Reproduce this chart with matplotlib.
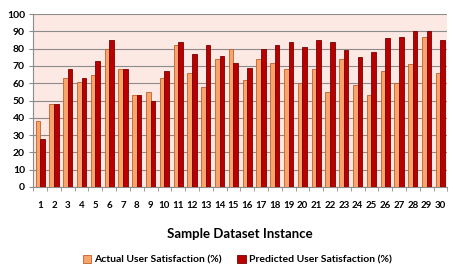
import numpy as np
import matplotlib.pyplot as plt
from matplotlib.ticker import MultipleLocator

plt.rcParams['font.family'] = ['Lato', 'DejaVu Sans']

instances = [str(i) for i in range(1, 31)]
actual = [38, 48, 63, 61, 65, 80, 68, 53, 55, 63,
          82, 66, 58, 74, 80, 62, 74, 72, 68, 60,
          68, 55, 74, 59, 53, 67, 60, 71, 87, 66]
predicted = [28, 48, 68, 63, 73, 85, 68, 53, 50, 67,
             84, 77, 82, 76, 72, 69, 80, 82, 84, 81,
             85, 84, 79, 75, 78, 86, 87, 90, 90, 85]

fig = plt.figure(figsize=(4.56, 2.71), dpi=100)
ax = fig.add_axes([0.073, 0.31, 0.908, 0.638])

x = np.arange(len(instances))
w = 0.33
ax.bar(x - w / 2, actual, w, color='#f9a46a', edgecolor='#c0602a', linewidth=0.6,
       label='Actual User Satisfaction (%)', zorder=3)
ax.bar(x + w / 2, predicted, w, color='#b80000', edgecolor='#7a0000', linewidth=0.6,
       label='Predicted User Satisfaction (%)', zorder=3)

ax.set_facecolor('#fde9e3')
ax.set_ylim(0, 100)
ax.set_xlim(-0.5, len(instances) - 0.5)
ax.yaxis.set_major_locator(MultipleLocator(10))
ax.grid(axis='y', color='#8c8c8c', linewidth=0.8, zorder=0)

ax.set_xticks(x)
ax.set_xticklabels(instances)
ax.set_xticks(np.arange(-0.5, len(instances), 1), minor=True)
ax.tick_params(axis='x', which='major', length=0, pad=10, labelsize=7)
ax.tick_params(axis='x', which='minor', length=3, color='#8c8c8c')
ax.tick_params(axis='y', length=3, color='#8c8c8c', labelsize=7.5, pad=3)
for lbl in ax.get_xticklabels() + ax.get_yticklabels():
    lbl.set_fontweight('bold')

for side in ['top', 'right']:
    ax.spines[side].set_visible(False)
ax.spines['left'].set_color('#8c8c8c')
ax.spines['bottom'].set_color('#8c8c8c')

ax.set_xlabel('Sample Dataset Instance', fontsize=9.5, fontweight='bold', labelpad=13)

leg = fig.legend(loc='lower center', bbox_to_anchor=(0.52, -0.01), ncol=2, frameon=False,
                 prop={'size': 7.5, 'weight': 'bold'}, handlelength=0.8, handleheight=0.8,
                 handletextpad=0.3, columnspacing=1.5)

fig.savefig('out.png', dpi=100)
